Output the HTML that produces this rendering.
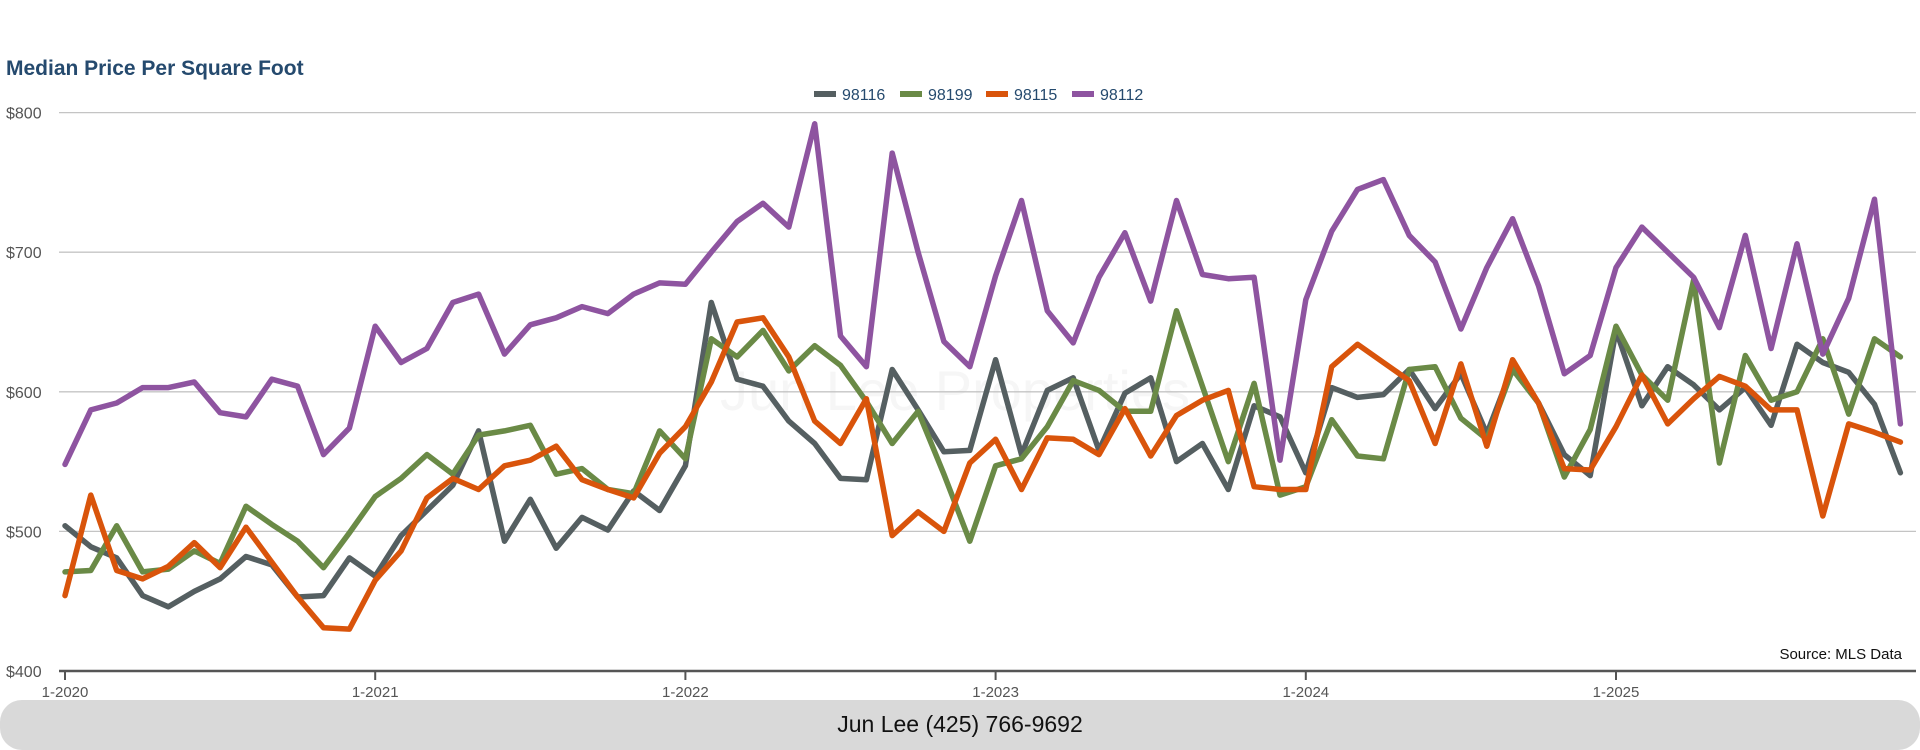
<!DOCTYPE html>
<html><head><meta charset="utf-8"><style>
html,body{margin:0;padding:0;background:#fff;width:1920px;height:750px;overflow:hidden;font-family:"Liberation Sans",sans-serif}
</style></head><body>
<svg id="chart" width="1920" height="750" xmlns="http://www.w3.org/2000/svg" font-family="Liberation Sans, sans-serif">
<text x="6" y="75" font-size="21" font-weight="bold" fill="#254a6e">Median Price Per Square Foot</text>
<text x="955" y="410" font-size="56" fill="#f6f6f6" text-anchor="middle">Jun Lee Properties</text>
<g id="grid"></g><g id="lines"></g><g id="legend"></g>
<text x="1902" y="659" font-size="15" fill="#111" text-anchor="end">Source: MLS Data</text>
<rect x="0" y="700" width="1920" height="50" rx="22" fill="#d9d9d9"/>
<text x="960" y="732" font-size="23" fill="#111" text-anchor="middle">Jun Lee (425) 766-9692</text>
</svg>
<script>
const yTicks=[400,500,600,700,800];
const yTickLabels=["$400","$500","$600","$700","$800"];
const xTickLabels=["1-2020","1-2021","1-2022","1-2023","1-2024","1-2025"];
const seriesNames=["98116","98199","98115","98112"];
const seriesColors=["#555f61","#6a8a46","#d9540b","#8e54a0"];
const s98116=[504,489,481,454,446,457,466,482,476,453,454,481,468,497,515,533,572,493,523,488,510,501,529,515,547,664,609,604,579,563,538,537,616,587,557,558,623,555,601,610,558,599,610,550,563,530,590,582,542,603,596,598,616,588,613,570,618,592,555,540,644,590,618,605,587,603,576,634,621,614,591,542];
const s98199=[471,472,504,471,473,486,477,518,505,493,474,499,525,538,555,541,569,572,576,541,545,530,527,572,552,638,625,644,615,633,619,593,563,586,541,493,547,552,575,608,601,586,586,658,604,550,606,526,532,580,554,552,616,618,581,566,616,592,539,573,647,612,594,680,549,626,594,600,638,584,638,625];
const s98115=[454,526,472,466,475,492,474,503,478,453,431,430,465,486,524,538,530,547,551,561,537,530,524,556,575,607,650,653,625,579,563,595,497,514,500,549,566,530,567,566,555,588,554,583,594,601,532,530,530,618,634,621,608,563,620,561,623,592,545,544,575,612,577,595,611,604,587,587,511,577,571,564];
const s98112=[548,587,592,603,603,607,585,582,609,604,555,574,647,621,631,664,670,627,648,653,661,656,670,678,677,700,722,735,718,792,640,618,771,700,636,618,683,737,658,635,682,714,665,737,684,681,682,551,666,715,745,752,712,693,645,689,724,676,613,626,689,718,700,682,646,712,631,706,627,667,738,577];
const seriesData=[s98116,s98199,s98115,s98112];
const NS="http://www.w3.org/2000/svg";
const X0=65,XSTEP=25.85,Y400=671,YPER=1.396;
function xs(i){return X0+i*XSTEP;}
function ys(v){return Y400-(v-400)*YPER;}
function mk(t,a,p){const e=document.createElementNS(NS,t);for(const k in a)e.setAttribute(k,a[k]);p.appendChild(e);return e;}
const grid=document.getElementById('grid');
yTicks.forEach((v,i)=>{
  const l=mk('line',{x1:59,x2:1916,y1:ys(v),y2:ys(v),stroke:i===0?'#555':'#c4c4c4','stroke-width':i===0?2.5:1.3},grid);
  
  
  const t=mk('text',{x:6,y:ys(v)+6,'font-size':16,fill:'#555'},grid);
  t.textContent=yTickLabels[i];
  
  
});
xTickLabels.forEach((lab,i)=>{
  const x=xs(i*12);
  const tk=mk('line',{x1:x,x2:x,y1:671,y2:680,stroke:'#555','stroke-width':2},grid);
  
  
  const t=mk('text',{x:x,y:697,'font-size':15,fill:'#555','text-anchor':'middle'},grid);
  t.textContent=lab;
  
  
});
const lines=document.getElementById('lines');
seriesData.forEach((d,si)=>{
  const pts=d.map((v,i)=>xs(i).toFixed(1)+','+ys(v).toFixed(1)).join(' ');
  const p=mk('polyline',{points:pts,fill:'none',stroke:seriesColors[si],'stroke-width':5.5,'stroke-linejoin':'round','stroke-linecap':'round'},lines);
  
  
});
const leg=document.getElementById('legend');
const legX=[814,900,986,1072];
seriesNames.forEach((n,i)=>{
  const g=mk('g',{},leg);
  
  
  mk('rect',{x:legX[i],y:91,width:22,height:6,fill:seriesColors[i]},g);
  const t=mk('text',{x:legX[i]+28,y:100,'font-size':16,fill:'#254a6e'},g);
  t.textContent=n;
});
</script>
</body></html>
